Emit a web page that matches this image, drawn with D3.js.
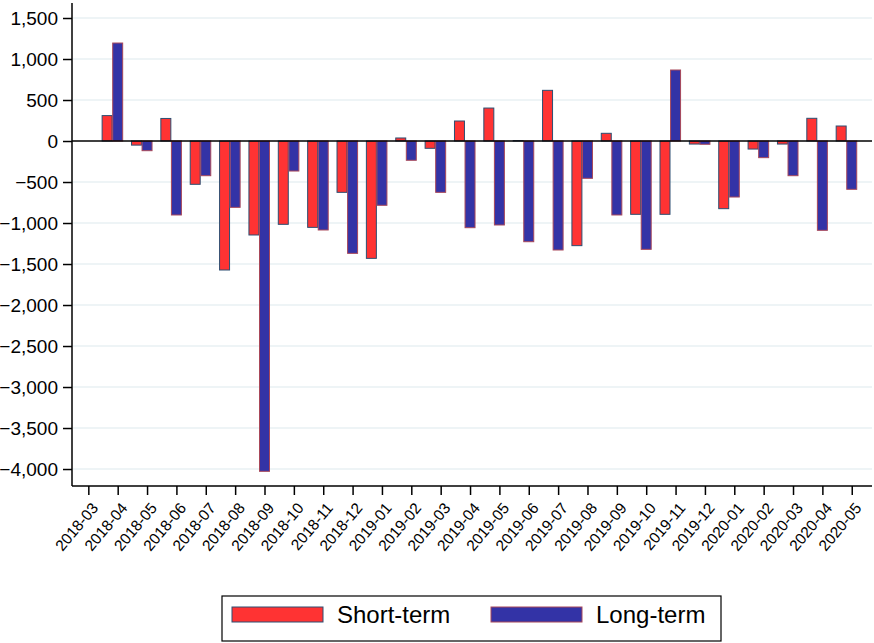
<!DOCTYPE html>
<html>
<head>
<meta charset="utf-8">
<script src="https://cdn.jsdelivr.net/npm/d3@7"></script>
<style>
  html, body { margin: 0; padding: 0; background: #fff; }
  svg { display: block; font-family: "Liberation Sans", Arial, Helvetica, sans-serif; }
</style>
</head>
<body>
<svg id="chart" width="874" height="643"></svg>
<script>
// ---- Data ----
const tickLabels = ["2018-03","2018-04","2018-05","2018-06","2018-07","2018-08","2018-09","2018-10","2018-11","2018-12",
  "2019-01","2019-02","2019-03","2019-04","2019-05","2019-06","2019-07","2019-08","2019-09","2019-10","2019-11","2019-12",
  "2020-01","2020-02","2020-03","2020-04","2020-05"];
const months = tickLabels.slice(1); // bars from 2018-04 to 2020-05
const shortTerm = [310, -50, 275, -528, -1573, -1146, -1016, -1053, -626, -1431, 37, -89, 244, 402, 5, 618,
  -1276, 94, -894, -894, -37, -825, -98, -37, 277, 183];
const longTerm = [1195, -118, -902, -423, -809, -4028, -366, -1085, -1370, -784, -235, -626, -1057, -1024, -1228, -1329,
  -455, -902, -1321, 866, -40, -683, -203, -423, -1089, -589];
const yTicks = [1500, 1000, 500, 0, -500, -1000, -1500, -2000, -2500, -3000, -3500, -4000];
const seriesNames = ["Short-term", "Long-term"];
const seriesColors = ["#ff3333", "#3333a6"];
const seriesStrokes = ["#2c4f72", "#a8485a"];

// ---- Layout ----
const svg = d3.select("#chart");
const pLeft = 72, pRight = 872, pTop = 3, pBottom = 486;

const x = d3.scaleLinear().domain([-0.556, 26.69]).range([pLeft, pRight]);
const y = d3.scaleLinear().domain([-4207, 1683]).range([pBottom, pTop]);
const idx = d => tickLabels.indexOf(d);
const barW = 0.34;

// gridlines
svg.append("g").selectAll("line").data(yTicks.filter(v => v !== 0)).join("line")
  .attr("x1", pLeft + 1).attr("x2", pRight)
  .attr("y1", d => y(d)).attr("y2", d => y(d))
  .attr("stroke", "#e9f0f3").attr("stroke-width", 1.5);

// bars
const g = svg.append("g");
const shortData = months.map((m, i) => ({ m, v: shortTerm[i] }));
const longData = months.map((m, i) => ({ m, v: longTerm[i] }));

g.selectAll("rect.s").data(shortData).join("rect").attr("class", "s")
  .attr("x", d => x(idx(d.m) - 0.36 - barW / 2))
  .attr("width", x(barW) - x(0))
  .attr("y", d => y(Math.max(0, d.v)))
  .attr("height", d => Math.abs(y(d.v) - y(0)))
  .attr("fill", seriesColors[0]).attr("stroke", seriesStrokes[0]).attr("stroke-width", 1);

g.selectAll("rect.l").data(longData).join("rect").attr("class", "l")
  .attr("x", d => x(idx(d.m) - barW / 2))
  .attr("width", x(barW) - x(0))
  .attr("y", d => y(Math.max(0, d.v)))
  .attr("height", d => Math.abs(y(d.v) - y(0)))
  .attr("fill", seriesColors[1]).attr("stroke", seriesStrokes[1]).attr("stroke-width", 1);

// zero line
svg.append("line").attr("x1", pLeft).attr("x2", pRight).attr("y1", y(0)).attr("y2", y(0))
  .attr("stroke", "#000").attr("stroke-width", 1.5);

// y axis
const yAxis = d3.axisLeft(y).tickValues(yTicks).tickSize(9).tickPadding(5)
  .tickFormat(d3.format(","));
const yg = svg.append("g").attr("transform", `translate(${pLeft},0)`).call(yAxis);
yg.select(".domain").attr("d", `M0,${pTop}V${pBottom}`).attr("stroke", "#000").attr("stroke-width", 1.5);
yg.selectAll(".tick line").attr("stroke", "#000").attr("stroke-width", 1.5);
yg.selectAll(".tick text").attr("font-size", "19px").attr("fill", "#000")
  .attr("font-family", "Liberation Sans, Arial, sans-serif");

// x axis
const xAxis = d3.axisBottom(x).tickValues(d3.range(tickLabels.length)).tickSize(9)
  .tickFormat(i => tickLabels[i]);
const xg = svg.append("g").attr("transform", `translate(0,${pBottom})`).call(xAxis);
xg.select(".domain").attr("d", `M${pLeft},0H${pRight}`).attr("stroke", "#000").attr("stroke-width", 1.5);
xg.selectAll(".tick line").attr("stroke", "#000").attr("stroke-width", 1.5);
xg.selectAll(".tick text")
  .attr("font-size", "15.5px").attr("fill", "#000")
  .attr("font-family", "Liberation Sans, Arial, sans-serif")
  .attr("text-anchor", "end")
  .attr("y", 0).attr("dy", "0.35em")
  .attr("transform", "translate(6,19) rotate(-50)");

// legend
const lg = svg.append("g");
lg.append("rect").attr("x", 222).attr("y", 596).attr("width", 499).attr("height", 45)
  .attr("fill", "#fff").attr("stroke", "#000").attr("stroke-width", 1.2);
const legX = [232, 491];
seriesNames.forEach((name, i) => {
  lg.append("rect").attr("x", legX[i]).attr("y", 607).attr("width", 91).attr("height", 15)
    .attr("fill", seriesColors[i]).attr("stroke", seriesStrokes[i]).attr("stroke-width", 1);
  lg.append("text").attr("x", legX[i] + 105).attr("y", 623)
    .attr("font-size", "24px").attr("fill", "#000").text(name);
});
</script>
</body>
</html>
